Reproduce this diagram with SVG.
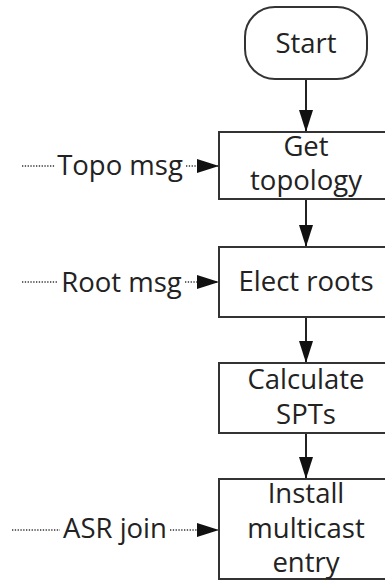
<svg xmlns="http://www.w3.org/2000/svg" width="385" height="582" viewBox="0 0 385 582">
<style>
.box{fill:#fff;stroke:#333;stroke-width:2}
.t{font-family:"Open Sans","Noto Sans",sans-serif;font-size:27.5px;fill:#222;text-anchor:middle}
.solid{stroke:#222;stroke-width:2;fill:none}
.dot{stroke:#333;stroke-width:1.5;stroke-dasharray:1.3 1.5;fill:none}
</style>
<defs>
<marker id="ah" markerUnits="userSpaceOnUse" markerWidth="22" markerHeight="14" refX="22" refY="7" orient="auto">
<path d="M0,0 L22,7 L0,14 Z" fill="#111"/>
</marker>
</defs>
<rect width="385" height="582" fill="#fff"/>
<g id="connectors">
<line class="solid" x1="306" y1="79" x2="306" y2="132" marker-end="url(#ah)"/>
<line class="solid" x1="306" y1="199" x2="306" y2="247" marker-end="url(#ah)"/>
<line class="solid" x1="306" y1="317" x2="306" y2="363" marker-end="url(#ah)"/>
<line class="solid" x1="306" y1="433" x2="306" y2="479" marker-end="url(#ah)"/>
<line class="dot" x1="22" y1="166" x2="55" y2="166"/>
<line class="dot" x1="186" y1="166" x2="219" y2="166" marker-end="url(#ah)"/>
<text class="t" x="120" y="175">Topo msg</text>
<line class="dot" x1="22" y1="282" x2="58" y2="282"/>
<line class="dot" x1="185" y1="282" x2="219" y2="282" marker-end="url(#ah)"/>
<text class="t" x="121.5" y="291.5">Root msg</text>
<line class="dot" x1="12" y1="530" x2="60" y2="530"/>
<line class="dot" x1="170" y1="530" x2="219" y2="530" marker-end="url(#ah)"/>
<text class="t" x="115" y="538">ASR join</text>
</g>
<g id="start">
<rect class="box" x="245" y="7" width="122" height="72" rx="30" ry="30"/>
<text class="t" x="306" y="53">Start</text>
</g>
<g id="get-topology">
<rect class="box" x="219" y="132" width="174" height="67"/>
<text class="t" x="306" y="156">Get</text>
<text class="t" x="306" y="190">topology</text>
</g>
<g id="elect-roots">
<rect class="box" x="219" y="247" width="174" height="70"/>
<text class="t" x="306" y="291">Elect roots</text>
</g>
<g id="calculate-spts">
<rect class="box" x="219" y="363" width="174" height="70"/>
<text class="t" x="306" y="389">Calculate</text>
<text class="t" x="306" y="424">SPTs</text>
</g>
<g id="install-entry">
<rect class="box" x="219" y="479" width="174" height="100"/>
<text class="t" x="306" y="503">Install</text>
<text class="t" x="306" y="538">multicast</text>
<text class="t" x="306" y="572">entry</text>
</g>
</svg>
